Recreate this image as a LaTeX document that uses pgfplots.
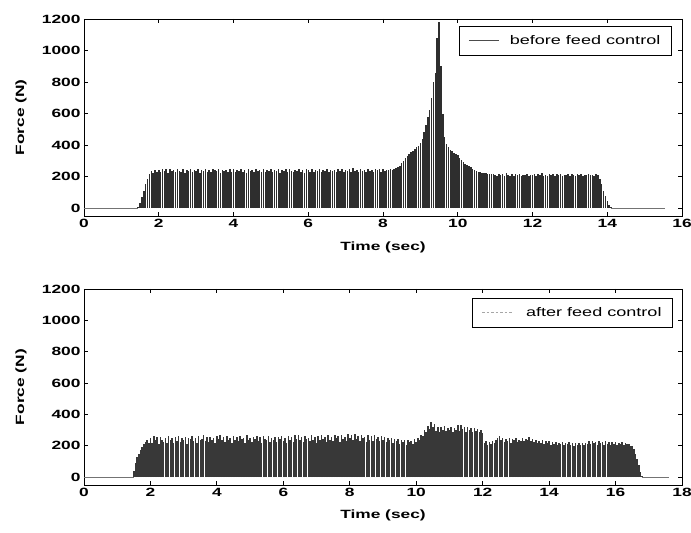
\documentclass[border=0pt]{standalone}
\usepackage{fontspec}
\setmainfont{Liberation Sans}
\newfontfamily\wide{Liberation Sans}[FakeStretch=1.45]
\usepackage{pgfplots}
\pgfplotsset{compat=1.18}

\pgfplotsset{
  forceaxis/.style={
    width=598bp, scale only axis,
    ymin=-50, ymax=1200, ytick={0,200,...,1200},
    tick align=inside, major tick length=4bp,
    axis line style={line width=0.8bp},
    every tick/.style={black, line width=0.8bp},
    tick label style={font=\wide\bfseries\fontsize{12}{12}\selectfont},
    /pgf/number format/assume math mode=true,
    /pgf/number format/1000 sep={},
    xlabel={Time (sec)}, ylabel={Force (N)},
    every axis x label/.style={at={(axis description cs:0.5,-0.157)}, anchor=center,
      font=\wide\bfseries\fontsize{12}{12}\selectfont},
    every axis y label/.style={at={(axis description cs:-0.1054,0.5)}, rotate=90, anchor=center,
      font=\wide\bfseries\fontsize{12}{12}\selectfont},
    legend style={draw=black, line width=1bp, anchor=north east,
      font=\wide\fontsize{12.5}{12.5}\selectfont, inner xsep=9bp, inner ysep=7bp},
    legend cell align=left,
  },
  signal/.style={ycomb, line width=1.5bp},
}

\begin{document}
\begin{tikzpicture}[x=1bp,y=1bp]
\path[use as bounding box] (-84,-48) rectangle (607,485);

% before feed control
\begin{axis}[forceaxis, at={(0,269bp)}, anchor=south west, height=197bp,
    xmin=0, xmax=16, xtick={0,2,...,16},
    legend style={at={(0.983,0.964)}}]
\addplot[black!55, line width=0.8bp, forget plot] coordinates {(0,0) (1.45,0)};
\addplot[black!55, line width=0.8bp, forget plot] coordinates {(14.1,0) (15.55,0)};
\addplot[signal, black!82,
    legend image code/.code={\draw[black!70, line width=0.7bp, solid] (0bp,0bp) -- (30bp,0bp); \path[draw=none, fill=none] (0bp,0bp) -- (39bp,0bp);}]
coordinates {
(1.45,5) (1.50,30) (1.55,70) (1.60,110) (1.65,150) (1.70,185) (1.75,215) (1.80,235) (1.85,225) (1.90,240) (1.95,230)
(2.00,242) (2.05,228) (2.10,250) (2.15,236) (2.20,245) (2.25,222) (2.30,248) (2.35,233) (2.40,240) (2.45,226)
(2.50,251) (2.55,238) (2.60,230) (2.65,246) (2.70,224) (2.75,243) (2.80,235) (2.85,249) (2.90,229) (2.95,241)
(3.00,234) (3.05,247) (3.10,225) (3.15,244) (3.20,237) (3.25,250) (3.30,231) (3.35,242) (3.40,227) (3.45,246)
(3.50,239) (3.55,233) (3.60,248) (3.65,223) (3.70,244) (3.75,236) (3.80,241) (3.85,229) (3.90,249) (3.95,232)
(4.00,245) (4.05,226) (4.10,243) (4.15,238) (4.20,251) (4.25,230) (4.30,240) (4.35,224) (4.40,247) (4.45,235)
(4.50,242) (4.55,228) (4.60,249) (4.65,237) (4.70,244) (4.75,231) (4.80,250) (4.85,226) (4.90,241) (4.95,234)
(5.00,246) (5.05,229) (5.10,243) (5.15,236) (5.20,248) (5.25,225) (5.30,240) (5.35,233) (5.40,245) (5.45,230)
(5.50,251) (5.55,238) (5.60,227) (5.65,244) (5.70,235) (5.75,249) (5.80,231) (5.85,242) (5.90,224) (5.95,247)
(6.00,239) (6.05,232) (6.10,246) (6.15,228) (6.20,243) (6.25,236) (6.30,250) (6.35,229) (6.40,241) (6.45,234)
(6.50,248) (6.55,226) (6.60,244) (6.65,237) (6.70,242) (6.75,230) (6.80,249) (6.85,233) (6.90,245) (6.95,227)
(7.00,240) (7.05,235) (7.10,247) (7.15,231) (7.20,252) (7.25,238) (7.30,243) (7.35,229) (7.40,246) (7.45,234)
(7.50,241) (7.55,226) (7.60,249) (7.65,237) (7.70,244) (7.75,232) (7.80,250) (7.85,239) (7.90,245) (7.95,230)
(8.00,248) (8.05,236) (8.10,243) (8.15,240) (8.20,251) (8.25,244)
(8.30,250) (8.35,255) (8.40,260) (8.45,268) (8.50,285) (8.55,300) (8.60,318) (8.65,330) (8.70,345) (8.75,355)
(8.80,365) (8.85,375) (8.90,385) (8.95,395) (9.00,410) (9.05,440) (9.10,480) (9.15,530) (9.20,580) (9.25,620)
(9.30,700) (9.35,800) (9.40,860) (9.45,1080) (9.50,1180) (9.55,900) (9.60,600) (9.65,450) (9.70,405) (9.75,385)
(9.80,370) (9.85,360) (9.90,350) (9.95,345) (10.00,335) (10.05,320) (10.10,305) (10.15,292) (10.20,282) (10.25,275)
(10.30,265) (10.35,258) (10.40,250) (10.45,242) (10.50,236) (10.55,232) (10.60,228) (10.65,224) (10.70,222) (10.75,220)
(10.80,218) (10.85,216) (10.90,215) (10.95,214)
(11.00,213) (11.05,205) (11.10,218) (11.15,208) (11.20,215) (11.25,202) (11.30,220) (11.35,210) (11.40,206) (11.45,217)
(11.50,203) (11.55,214) (11.60,209) (11.65,219) (11.70,204) (11.75,212) (11.80,207) (11.85,216) (11.90,201) (11.95,213)
(12.00,210) (12.05,218) (12.10,205) (12.15,214) (12.20,208) (12.25,220) (12.30,203) (12.35,212) (12.40,206) (12.45,217)
(12.50,209) (12.55,214) (12.60,202) (12.65,216) (12.70,210) (12.75,219) (12.80,205) (12.85,213) (12.90,208) (12.95,215)
(13.00,203) (13.05,217) (13.10,211) (13.15,206) (13.20,214) (13.25,209) (13.30,218) (13.35,204) (13.40,212) (13.45,207)
(13.50,216) (13.55,210) (13.60,213) (13.65,205) (13.70,215) (13.75,208) (13.80,185) (13.85,150) (13.90,110) (13.95,75)
(14.00,45) (14.05,20) (14.10,5)
};
\addlegendentry{before feed control}
\end{axis}

% after feed control
\begin{axis}[forceaxis, at={(0,0)}, anchor=south west, height=196bp,
    xmin=0, xmax=18, xtick={0,2,...,18},
    legend style={at={(0.985,0.954)}}]
\addplot[black!55, line width=0.8bp, forget plot] coordinates {(0,0) (1.5,0)};
\addplot[black!55, line width=0.8bp, forget plot] coordinates {(16.8,0) (17.6,0)};
\addplot[signal, black!78,
    legend image code/.code={\draw[black!35, line width=0.7bp, dash pattern=on 2.5bp off 2bp] (0bp,0bp) -- (30bp,0bp); \path[draw=none, fill=none] (0bp,0bp) -- (42bp,0bp);}]
coordinates {
(1.50,40) (1.55,90) (1.60,130) (1.65,150) (1.70,175) (1.75,195) (1.80,210) (1.85,225) (1.90,235) (1.95,215)
(2.00,248) (2.05,220) (2.10,262) (2.15,235) (2.20,255) (2.25,212) (2.30,258) (2.35,240) (2.40,226) (2.45,252)
(2.50,218) (2.55,260) (2.60,238) (2.65,247) (2.70,215) (2.75,256) (2.80,232) (2.85,262) (2.90,224) (2.95,250)
(3.00,236) (3.05,258) (3.10,214) (3.15,248) (3.20,242) (3.25,264) (3.30,228) (3.35,252) (3.40,220) (3.45,260)
(3.50,238) (3.55,246) (3.60,268) (3.65,230) (3.70,255) (3.75,222) (3.80,258) (3.85,240) (3.90,250) (3.95,216)
(4.00,262) (4.05,244) (4.10,270) (4.15,235) (4.20,256) (4.25,226) (4.30,262) (4.35,240) (4.40,250) (4.45,218)
(4.50,264) (4.55,236) (4.60,255) (4.65,228) (4.70,260) (4.75,245) (4.80,252) (4.85,220) (4.90,266) (4.95,238)
(5.00,250) (5.05,224) (5.10,258) (5.15,242) (5.20,262) (5.25,230) (5.30,254) (5.35,218) (5.40,260) (5.45,246)
(5.50,238) (5.55,264) (5.60,226) (5.65,252) (5.70,240) (5.75,258) (5.80,222) (5.85,256) (5.90,244) (5.95,262)
(6.00,232) (6.05,250) (6.10,216) (6.15,260) (6.20,238) (6.25,254) (6.30,226) (6.35,266) (6.40,242) (6.45,270)
(6.50,235) (6.55,258) (6.60,222) (6.65,262) (6.70,246) (6.75,252) (6.80,228) (6.85,268) (6.90,240) (6.95,256)
(7.00,220) (7.05,262) (7.10,236) (7.15,270) (7.20,244) (7.25,254) (7.30,226) (7.35,266) (7.40,240) (7.45,258)
(7.50,230) (7.55,272) (7.60,248) (7.65,260) (7.70,224) (7.75,268) (7.80,242) (7.85,256) (7.90,232) (7.95,274)
(8.00,250) (8.05,266) (8.10,238) (8.15,276) (8.20,246) (8.25,262) (8.30,230) (8.35,270) (8.40,248) (8.45,258)
(8.50,226) (8.55,266) (8.60,240) (8.65,262) (8.70,232) (8.75,268) (8.80,244) (8.85,256) (8.90,228) (8.95,264)
(9.00,236) (9.05,258) (9.10,222) (9.15,252) (9.20,240) (9.25,248) (9.30,218) (9.35,246) (9.40,230) (9.45,242)
(9.50,212) (9.55,240) (9.60,226) (9.65,236) (9.70,208) (9.75,238) (9.80,222) (9.85,232) (9.90,214) (9.95,244)
(10.00,226) (10.05,250) (10.10,238) (10.15,270) (10.20,262) (10.25,300) (10.30,285) (10.35,325) (10.40,310) (10.45,350)
(10.50,322) (10.55,338) (10.60,296) (10.65,320) (10.70,288) (10.75,318) (10.80,300) (10.85,326) (10.90,292) (10.95,315)
(11.00,298) (11.05,322) (11.10,286) (11.15,316) (11.20,302) (11.25,330) (11.30,294) (11.35,334) (11.40,305) (11.45,318)
(11.50,290) (11.55,320) (11.60,298) (11.65,312) (11.70,285) (11.75,316) (11.80,295) (11.85,308) (11.90,288) (11.95,300)
(12.00,282) (12.05,215) (12.10,230) (12.15,205) (12.20,226) (12.25,210) (12.30,232) (12.35,218) (12.40,240) (12.45,250)
(12.50,265) (12.55,238) (12.60,252) (12.65,224) (12.70,246) (12.75,232) (12.80,250) (12.85,220) (12.90,244) (12.95,236)
(13.00,248) (13.05,226) (13.10,240) (13.15,230) (13.20,252) (13.25,228) (13.30,246) (13.35,238) (13.40,256) (13.45,232)
(13.50,244) (13.55,224) (13.60,238) (13.65,215) (13.70,232) (13.75,220) (13.80,236) (13.85,212) (13.90,228) (13.95,218)
(14.00,230) (14.05,208) (14.10,222) (14.15,214) (14.20,226) (14.25,205) (14.30,220) (14.35,212) (14.40,224) (14.45,203)
(14.50,218) (14.55,210) (14.60,222) (14.65,206) (14.70,216) (14.75,200) (14.80,220) (14.85,208) (14.90,218) (14.95,204)
(15.00,215) (15.05,207) (15.10,221) (15.15,210) (15.20,228) (15.25,214) (15.30,232) (15.35,218) (15.40,226) (15.45,208)
(15.50,230) (15.55,215) (15.60,224) (15.65,206) (15.70,228) (15.75,212) (15.80,222) (15.85,204) (15.90,226) (15.95,214)
(16.00,224) (16.05,208) (16.10,220) (16.15,212) (16.20,222) (16.25,205) (16.30,218) (16.35,210) (16.40,212) (16.45,198)
(16.50,200) (16.55,180) (16.60,150) (16.65,115) (16.70,75) (16.75,35) (16.80,8)
};
\addlegendentry{after feed control}
\end{axis}
\end{tikzpicture}
\end{document}
